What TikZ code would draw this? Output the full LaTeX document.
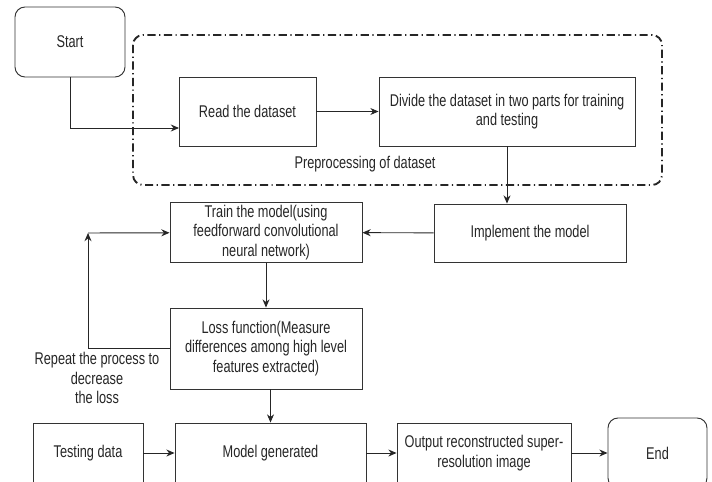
\documentclass[tikz,border=0pt]{standalone}
\usepackage{fontspec}
\setmainfont{Liberation Sans}[FakeStretch=0.75]
\usepackage{tikz}
\usetikzlibrary{arrows.meta, positioning, calc}

\begin{document}
\begin{tikzpicture}[
  x=0.03cm, y=-0.03cm,
  every node/.style={font=\fontsize{14.5pt}{16.6pt}\selectfont, text=black!85},
  stepbox/.style={draw=black!80, line width=0.8pt, rectangle, align=center, inner sep=2pt},
  termbox/.style={stepbox, rounded corners=0.3cm},
  flow/.style={draw=black!85, line width=0.8pt, -{Stealth[length=7pt, width=6pt]}},
  prepzone/.style={draw=black!85, line width=1.6pt, rounded corners=0.3cm,
    dash pattern=on 7pt off 3pt on 1pt off 3pt}
]
\useasboundingbox (0,0) rectangle (712,481);

% Preprocessing area
\draw[prepzone] (133,35) rectangle (662,185);
\node (preplabel) at (365,164) {Preprocessing of dataset};

% Steps
\node[termbox, minimum width=3.3cm, minimum height=2.1cm] (start) at (70,42) {Start};
\node[stepbox, minimum width=4.11cm, minimum height=2.07cm] (read) at (247.5,111.5) {Read the dataset};
\node[stepbox, minimum width=7.68cm, minimum height=2.07cm] (divide) at (507,111.5) {Divide the dataset in two parts for training\\and testing};
\node[stepbox, minimum width=5.76cm, minimum height=1.77cm] (train) at (266,232.5) {Train the model(using\\feedforward convolutional\\neural network)};
\node[stepbox, minimum width=5.76cm, minimum height=1.74cm] (impl) at (530,233) {Implement the model};
\node[stepbox, minimum width=5.76cm, minimum height=2.43cm] (loss) at (266,348.5) {Loss function(Measure\\differences among high level\\features extracted)};
\node[stepbox, minimum width=3.3cm, minimum height=1.8cm] (testing) at (88,453) {Testing data};
\node[stepbox, minimum width=5.73cm, minimum height=1.8cm] (model) at (270.5,453) {Model generated};
\node[stepbox, minimum width=5.22cm, minimum height=1.8cm] (output) at (484,453) {Output reconstructed super-\\resolution image};
\node[termbox, minimum width=2.97cm, minimum height=2.1cm] (end) at (657.5,453) {End};
\node[align=center] (repeatlabel) at (97,378) {Repeat the process to\\decrease\\the loss};

\coordinate (readin) at (179,128);
\coordinate (loopc) at (88,233);

% Connectors
\draw[flow] (start.south) |- (readin);
\draw[flow] (read) -- (divide);
\draw[flow] (divide.south) -- (divide.south |- impl.north);
\draw[flow] (impl) -- (train);
\draw[flow] (train) -- (loss);
\draw[flow] (loss.west) -| (loopc);
\draw[flow] (loopc) -- (train);
\draw[flow] (loss.south -| model.north) -- (model.north);
\draw[flow] (testing) -- (model);
\draw[flow] (model) -- (output);
\draw[flow] (output) -- (end);

\end{tikzpicture}
\end{document}
